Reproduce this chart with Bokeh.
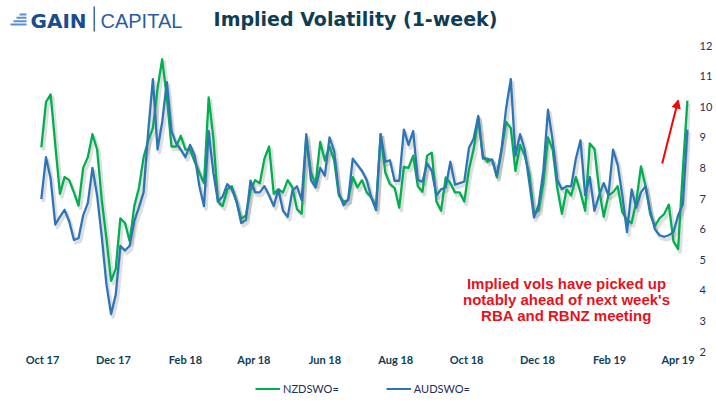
from datetime import datetime, timedelta
import pandas as pd
from bokeh.plotting import figure
from bokeh.layouts import column
from bokeh.models import (Range1d, FixedTicker, Label, Arrow, NormalHead,
                          Legend, LegendItem, BoxAnnotation)
from bokeh.embed import file_html
from bokeh.resources import INLINE

# ---------------- data ----------------
dates = pd.date_range("2017-09-30", periods=140, freq="4D")

nzd = [8.67, 10.15, 10.4, 8.75, 7.15, 7.7, 7.6, 7.2, 6.77, 8.0,
       8.35, 9.1, 8.6, 6.95, 5.7, 4.31, 4.7, 6.35, 6.2, 5.6,
       6.75, 7.35, 8.35, 8.9, 9.3, 10.6, 11.55, 10.3, 8.7, 8.7,
       9.05, 8.6, 8.6, 8.2, 7.85, 7.5, 10.3, 9.0, 6.9, 6.75,
       7.3, 7.4, 6.9, 6.33, 6.45, 7.25, 7.6, 7.5, 8.3, 8.7,
       7.15, 7.3, 7.2, 7.6, 7.36, 6.65, 6.5, 9.0, 7.85, 7.47,
       8.85, 8.24, 8.7, 8.24, 7.1, 6.9, 6.95, 7.7, 7.36, 7.6,
       7.2, 7.04, 6.72, 9.1, 7.85, 7.47, 7.35, 6.7, 8.03, 8.0,
       8.4, 7.4, 7.22, 8.4, 8.5, 6.9, 6.6, 7.69, 7.5, 7.2,
       7.2, 6.9, 7.95, 8.6, 9.65, 8.4, 8.2, 8.28, 7.69, 8.57,
       9.5, 9.3, 7.9, 8.75, 8.4, 7.8, 6.5, 6.6, 7.5, 9.0,
       8.6, 7.35, 6.5, 7.3, 7.1, 7.7, 7.2, 6.6, 8.8, 8.62,
       7.3, 6.4, 7.1, 7.2, 7.4, 6.55, 6.3, 6.2, 6.9, 8.05,
       7.4, 6.48, 6.1, 6.35, 6.49, 6.8, 5.6, 5.35, 7.9, 10.2]

aud = [6.98, 8.35, 7.65, 6.15, 6.4, 6.63, 6.25, 5.65, 5.7, 6.45,
       6.85, 8.0, 7.1, 5.75, 4.2, 3.22, 3.85, 5.45, 5.3, 5.45,
       6.27, 6.7, 7.2, 9.2, 10.9, 8.6, 9.5, 10.8, 9.2, 8.8,
       8.6, 8.35, 8.75, 8.4, 7.4, 6.75, 9.2, 7.85, 6.9, 7.06,
       7.47, 7.3, 6.9, 6.2, 6.3, 7.58, 7.2, 7.2, 7.4, 7.1,
       6.75, 7.3, 6.6, 6.4, 7.25, 7.4, 6.95, 9.1, 7.6, 7.36,
       8.0, 7.75, 9.0, 8.55, 7.2, 6.78, 6.95, 8.3, 8.1, 7.9,
       7.6, 7.04, 6.62, 9.1, 8.2, 8.25, 7.58, 7.58, 9.25, 8.75,
       9.2, 7.6, 7.55, 8.15, 7.9, 7.1, 7.3, 7.36, 8.2, 7.45,
       7.5, 7.55, 8.65, 8.95, 9.7, 8.3, 8.3, 8.25, 7.75, 8.6,
       9.95, 10.9, 8.4, 9.1, 8.6, 7.5, 6.38, 6.8, 7.9, 9.9,
       8.9, 7.6, 7.3, 7.4, 7.4, 8.3, 8.9, 7.1, 7.7, 6.6,
       7.1, 7.5, 7.1, 8.6, 8.1, 7.1, 5.9, 7.3, 6.7, 7.2,
       7.4, 6.6, 6.0, 5.8, 5.75, 5.8, 5.9, 6.45, 6.8, 9.25]

series_names = ["NZDSWO=", "AUDSWO="]
y_ticks = [2, 3, 4, 5, 6, 7, 8, 9, 10, 11, 12]
x_tick_dates = ["2017-10-01", "2017-12-01", "2018-02-01", "2018-04-01",
                "2018-06-01", "2018-08-01", "2018-10-01", "2018-12-01",
                "2019-02-01", "2019-04-01"]
x_tick_labels = ["Oct 17", "Dec 17", "Feb 18", "Apr 18", "Jun 18", "Aug 18",
                 "Oct 18", "Dec 18", "Feb 19", "Apr 19"]

title_text = "Implied Volatility (1-week)"
note_lines = ["Implied vols have picked up",
              "notably ahead of next week's",
              "RBA and RBNZ meeting"]

# ---------------- styling ----------------
GREEN = "#00B050"
BLUE = "#2E75B6"
NAVY = "#1F2D5A"
TEAL = "#0E3D55"
RED = "#E3141E"

def ms(d):
    return pd.Timestamp(d).value / 1e6

PX_PER_DAY = 1.162
PX_PER_UNIT = 30.6
FRAME_W = 690
FRAME_H = 351
MAIN_H = 372
LEG_H = 414 - MAIN_H
origin = datetime(2017, 10, 1)          # sits at x = 42 px
x_start = origin - timedelta(days=42 / PX_PER_DAY)
x_end = origin + timedelta(days=(FRAME_W - 42) / PX_PER_DAY)
y_top = 2 + FRAME_H / PX_PER_UNIT

p = figure(width=716, height=MAIN_H,
           output_backend="svg", toolbar_location=None,
           x_axis_type="datetime", y_axis_location="right",
           x_range=Range1d(x_start, x_end), y_range=Range1d(2, y_top),
           min_border_left=0, min_border_right=716 - FRAME_W, min_border_top=0,
           min_border_bottom=MAIN_H - FRAME_H)
p.outline_line_color = None
p.grid.visible = False
p.background_fill_color = "white"
p.border_fill_color = "white"

# shadow ranges (few pixels right/down)
shift_days = 2.0 / PX_PER_DAY
shift_y = 3.0 / PX_PER_UNIT
p.extra_x_ranges = {"shx": Range1d(x_start - timedelta(days=shift_days),
                                   x_end - timedelta(days=shift_days))}
p.extra_y_ranges = {"shy": Range1d(2 + shift_y, y_top + shift_y)}

p.line(dates, nzd, x_range_name="shx", y_range_name="shy", line_color="black",
       line_alpha=0.13, line_width=3.5, line_join="round")
p.line(dates, aud, x_range_name="shx", y_range_name="shy", line_color="black",
       line_alpha=0.13, line_width=3.5, line_join="round")

p.line(dates, nzd, line_color=GREEN, line_width=2.3, line_join="round")
p.line(dates, aud, line_color=BLUE, line_width=2.3, line_join="round")

# axes
xa = p.xaxis[0]
xa.ticker = FixedTicker(ticks=[ms(d) for d in x_tick_dates])
xa.major_label_overrides = {ms(d): lab for d, lab in zip(x_tick_dates, x_tick_labels)}
xa.axis_line_color = None
xa.major_tick_line_color = None
xa.minor_tick_line_color = None
xa.major_tick_out = 0
xa.major_tick_in = 0
xa.major_label_standoff = 1
xa.major_label_text_font = "Lato"
xa.major_label_text_font_style = "bold"
xa.major_label_text_font_size = "11px"
xa.major_label_text_color = TEAL

ya = p.yaxis[0]
ya.ticker = FixedTicker(ticks=y_ticks)
ya.axis_line_color = None
ya.major_tick_line_color = None
ya.minor_tick_line_color = None
ya.major_tick_out = 0
ya.major_tick_in = 0
ya.major_label_standoff = 9
ya.major_label_text_font = "Lato"
ya.major_label_text_font_size = "11px"
ya.major_label_text_color = NAVY

# title
p.add_layout(Label(x=355, y=FRAME_H - 18, x_units="screen", y_units="screen",
                   text=title_text, text_align="center", text_baseline="middle",
                   text_font="DejaVu Sans", text_font_style="bold",
                   text_font_size="19px", text_color=TEAL))

# logo
p.add_layout(Label(x=30, y=FRAME_H - 20, x_units="screen", y_units="screen", text="GAIN",
                   text_align="left", text_baseline="middle",
                   text_font="DejaVu Sans", text_font_style="bold",
                   text_font_size="20px", text_color="#1B4C8C"))
p.add_layout(Label(x=100, y=FRAME_H - 20, x_units="screen", y_units="screen",
                   text="CAPITAL", text_align="left", text_baseline="middle",
                   text_font="Liberation Sans", text_font_size="20px",
                   text_color="#2B5C9E"))
p.add_layout(BoxAnnotation(left=93, right=94.5, bottom=FRAME_H - 31, top=FRAME_H - 6,
                           left_units="screen", right_units="screen",
                           bottom_units="screen", top_units="screen",
                           fill_color="#3A6AAA", fill_alpha=1, line_alpha=0))
for (l, yy) in [(19, 14), (16, 17.3), (13, 20.7), (10, 24)]:
    p.add_layout(BoxAnnotation(left=l, right=26, bottom=FRAME_H - yy - 1,
                               top=FRAME_H - yy + 1,
                               left_units="screen", right_units="screen",
                               bottom_units="screen", top_units="screen",
                               fill_color="#5B8ED6", fill_alpha=1, line_alpha=0))

# annotation
for i, line in enumerate(note_lines):
    p.add_layout(Label(x=566, y=FRAME_H - 283 - 16 * i, x_units="screen",
                       y_units="screen", text=line, text_align="center",
                       text_baseline="middle", text_font="Liberation Sans",
                       text_font_style="bold", text_font_size="15px",
                       text_color=RED))

p.add_layout(Arrow(end=NormalHead(size=8, fill_color="#FF0000", line_color="#FF0000"),
                   x_start=ms(origin + timedelta(days=533.3)), y_start=8.14,
                   x_end=ms(origin + timedelta(days=547.1)), y_end=10.22,
                   line_color="#FF0000", line_width=2))

# ---------------- legend strip below the chart ----------------
pl = figure(width=716, height=LEG_H, output_backend="svg", toolbar_location=None,
            x_axis_type="datetime", x_range=Range1d(x_start, x_end),
            y_range=Range1d(100, 101), min_border=0)
pl.axis.visible = False
pl.grid.visible = False
pl.outline_line_color = None
pl.border_fill_color = "white"
pl.background_fill_color = "white"
l_nzd = pl.line(dates, nzd, line_color=GREEN, line_width=3)
l_aud = pl.line(dates, aud, line_color=BLUE, line_width=3)
legend = Legend(items=[LegendItem(label=series_names[0], renderers=[l_nzd]),
                       LegendItem(label=series_names[1], renderers=[l_aud])],
                location=(255, LEG_H - 23), orientation="horizontal",
                glyph_width=25, glyph_height=2, label_height=2, label_width=10,
                label_standoff=3, spacing=47,
                padding=0, margin=0, border_line_alpha=0, background_fill_alpha=0,
                label_text_font="Lato", label_text_font_size="11px",
                label_text_color=NAVY, label_text_baseline="middle")
pl.add_layout(legend, "center")
# white masks over the small stray stroke above each legend swatch start
for (l, r) in [(251, 262), (382, 393)]:
    pl.add_layout(BoxAnnotation(left=l, right=r, bottom=28, top=LEG_H,
                                left_units="screen", right_units="screen",
                                bottom_units="screen", top_units="screen",
                                fill_color="white", fill_alpha=1, line_alpha=0))

layout = column(p, pl, spacing=0)
open("out.html", "w").write(file_html(layout, INLINE))
